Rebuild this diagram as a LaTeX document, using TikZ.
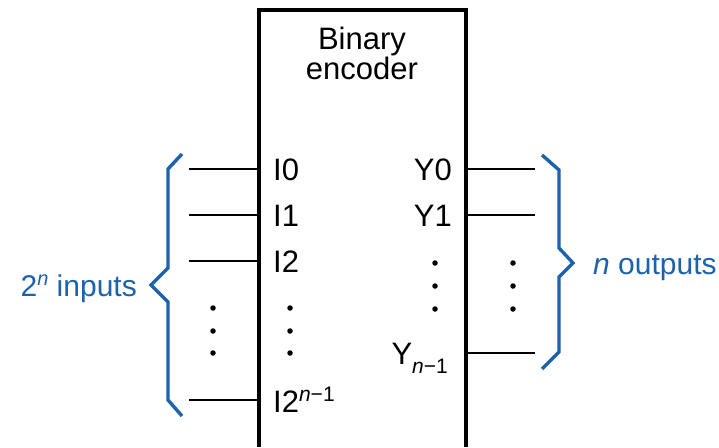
\documentclass[tikz,border=0pt]{standalone}
\usepackage{fontspec}
\setmainfont{Liberation Sans}
\definecolor{braceblue}{RGB}{28,98,172}
\begin{document}
\begin{tikzpicture}[x=1pt,y=-1pt,
  lbl/.style={font=\fontsize{31}{34}\selectfont, inner sep=0pt},
  blbl/.style={inner sep=0pt, font=\fontsize{30}{33}\selectfont, text=braceblue},
  wire/.style={line width=1.7pt},
  boxline/.style={line width=3.4pt},
  brace/.style={draw=braceblue, line width=3.4pt, line join=miter},
  dotmark/.style={circle, fill=black, inner sep=0pt, minimum size=5.5pt}]
\useasboundingbox (0,0) rectangle (719,447);
\fill[white] (0,0) rectangle (719,447);
% box
\coordinate (bl) at (259,447);
\coordinate (tl) at (259,10);
\coordinate (tr) at (466,10);
\coordinate (br) at (466,447);
\draw[boxline] (bl) -- (tl) -- (tr) -- (br);
\node[lbl, align=center] (title) at (362,53) {Binary\\[-4pt]encoder};
% input wires
\foreach \i/\y in {0/169,1/215,2/261,3/400}{
  \coordinate (in\i) at (189,\y);
  \coordinate (pin\i) at (259,\y);
  \draw[wire] (in\i) -- (pin\i);
}
% output wires
\foreach \i/\y in {0/169,1/215,2/353}{
  \coordinate (pout\i) at (466,\y);
  \coordinate (out\i) at (535,\y);
  \draw[wire] (pout\i) -- (out\i);
}
% input labels
\node[lbl, anchor=base west] (I0) at (273,180) {I0};
\node[lbl, anchor=base west] (I1) at (273,226) {I1};
\node[lbl, anchor=base west] (I2) at (273,272) {I2};
\node[lbl, anchor=base west] (I3) at (273,412) {I2\raisebox{11pt}{\fontsize{21}{22}\selectfont\textit{n}−1}};
% output labels
\node[lbl, anchor=base east] (Y0) at (452,180) {Y0};
\node[lbl, anchor=base east] (Y1) at (452,226) {Y1};
\node[lbl, anchor=base east] (Y2) at (448,364) {Y\raisebox{-9pt}{\fontsize{21}{22}\selectfont\textit{n}−1}};
% dots
\foreach \y [count=\k] in {308,331,353}{
  \node[dotmark] (dl\k) at (213,\y) {};
  \node[dotmark] (dm\k) at (290,\y) {};
}
\foreach \y [count=\k] in {263,286,309}{
  \node[dotmark] (dy\k) at (435,\y) {};
  \node[dotmark] (dr\k) at (513,\y) {};
}
% left brace
\draw[brace] (182,154) -- (168,169) -- (168,268) -- (151,285) -- (168,302) -- (168,400) -- (182,416);
\node[blbl, anchor=base east] (inlbl) at (137,296) {2\raisebox{11pt}{\fontsize{20}{22}\selectfont\textit{n}} inputs};
% right brace
\draw[brace] (542,155) -- (559,170) -- (559,248) -- (573,263) -- (559,277) -- (559,352) -- (542,369);
\node[blbl, anchor=base west] (outlbl) at (593,274) {\textit{n} outputs};
\end{tikzpicture}
\end{document}
